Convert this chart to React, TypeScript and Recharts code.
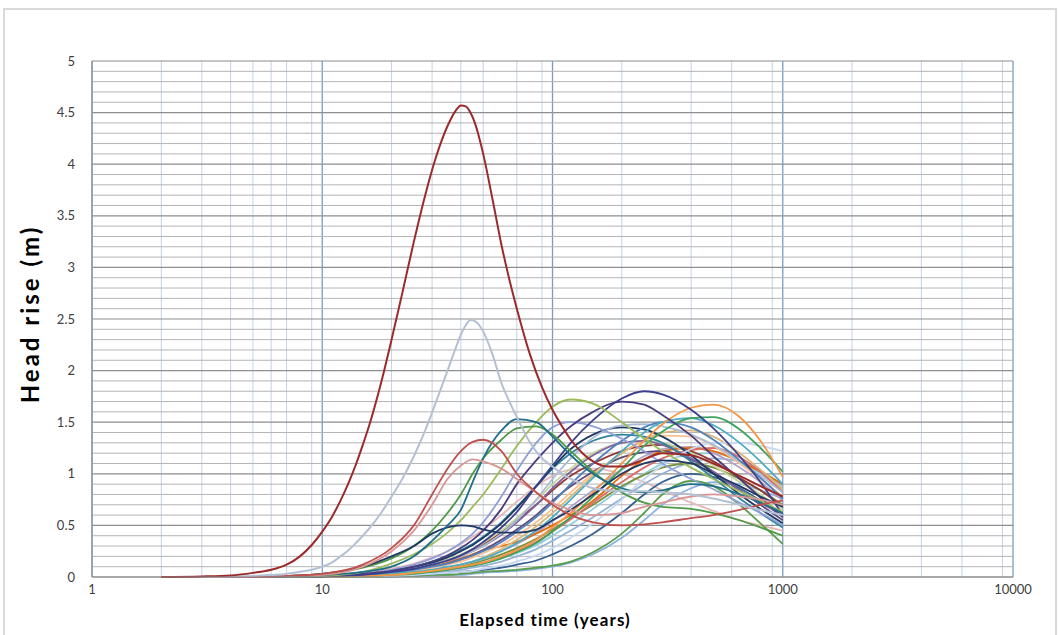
import React from 'react';
import { LineChart, Line, XAxis, YAxis, CartesianGrid, ReferenceLine } from 'recharts';

// elapsed time samples (years)
const T = [2, 3, 4, 5, 7, 10, 15, 20, 25, 30, 35, 40, 45, 50, 60, 70, 85, 100, 120, 150, 200, 250, 300, 400, 500, 650, 800, 1000];
// finer sampling for the two early, sharp peaks
const T_FINE = [2, 3, 4, 5, 6, 7, 8, 9, 10, 11, 12, 13, 14, 15, 16, 18, 20, 22, 25, 28, 31, 35, 38, 40, 42, 44, 46, 50, 55, 60, 65, 70, 80, 90, 100, 110, 120, 135, 150, 175, 200, 250, 300, 400, 500, 650, 800, 1000];

const S1 = [0, 0.005, 0.015, 0.04, 0.07, 0.12, 0.2, 0.31, 0.44, 0.58, 0.74, 0.91, 1.09, 1.28, 1.47, 1.88, 2.3, 2.7, 3.25, 3.7, 4.05, 4.37, 4.52, 4.57, 4.56, 4.5, 4.4, 4.1, 3.65, 3.22, 2.88, 2.6, 2.15, 1.84, 1.62, 1.46, 1.33, 1.2, 1.12, 1.07, 1.07, 1.14, 1.2, 1.18, 1.1, 0.98, 0.88, 0.78];
const S2 = [0, 0, 0.005, 0.01, 0.02, 0.03, 0.05, 0.07, 0.1, 0.14, 0.2, 0.26, 0.33, 0.4, 0.47, 0.62, 0.78, 0.93, 1.17, 1.42, 1.68, 2.0, 2.22, 2.35, 2.44, 2.49, 2.48, 2.38, 2.15, 1.88, 1.7, 1.55, 1.3, 1.15, 1.07, 1.0, 0.95, 0.9, 0.86, 0.84, 0.83, 0.83, 0.82, 0.8, 0.76, 0.7, 0.65, 0.6];

const S3 = [0, 0, 0, 0, 0.01, 0.03, 0.12, 0.28, 0.5, 0.8, 1.05, 1.22, 1.31, 1.33, 1.22, 1.0, 0.82, 0.7, 0.6, 0.53, 0.5, 0.51, 0.53, 0.57, 0.6, 0.65, 0.7, 0.74];
const S4 = [0, 0, 0, 0, 0.01, 0.02, 0.1, 0.25, 0.45, 0.7, 0.95, 1.08, 1.14, 1.12, 1.05, 0.95, 0.82, 0.72, 0.65, 0.6, 0.62, 0.68, 0.72, 0.78, 0.8, 0.78, 0.75, 0.7];
const S5 = [0, 0, 0, 0, 0.005, 0.02, 0.05, 0.1, 0.2, 0.35, 0.5, 0.65, 0.92, 1.15, 1.42, 1.53, 1.5, 1.36, 1.18, 1.0, 0.86, 0.82, 0.84, 0.9, 0.88, 0.8, 0.72, 0.62];
const S6 = [0, 0, 0, 0, 0.01, 0.03, 0.1, 0.2, 0.3, 0.42, 0.48, 0.5, 0.49, 0.46, 0.43, 0.43, 0.46, 0.55, 0.65, 0.8, 1.0, 1.1, 1.13, 1.1, 1.0, 0.88, 0.78, 0.68];
const S7 = [0, 0, 0, 0, 0.01, 0.03, 0.09, 0.18, 0.3, 0.45, 0.62, 0.8, 1.0, 1.15, 1.33, 1.44, 1.46, 1.38, 1.22, 1.02, 0.82, 0.72, 0.68, 0.66, 0.62, 0.55, 0.48, 0.4];
const S8 = [0, 0, 0, 0, 0, 0.01, 0.05, 0.13, 0.22, 0.32, 0.43, 0.55, 0.68, 0.8, 1.05, 1.27, 1.5, 1.65, 1.72, 1.68, 1.5, 1.34, 1.22, 1.06, 0.95, 0.83, 0.74, 0.63];
const S9 = [0, 0, 0, 0, 0, 0.005, 0.02, 0.05, 0.08, 0.12, 0.16, 0.21, 0.27, 0.34, 0.48, 0.63, 0.88, 1.08, 1.3, 1.52, 1.73, 1.8, 1.77, 1.62, 1.44, 1.17, 0.92, 0.6];
const S10 = [0, 0, 0, 0, 0, 0.005, 0.03, 0.06, 0.1, 0.15, 0.21, 0.28, 0.36, 0.45, 0.66, 0.9, 1.13, 1.3, 1.46, 1.6, 1.7, 1.67, 1.57, 1.37, 1.17, 0.95, 0.77, 0.58];
const S11 = [0, 0, 0, 0, 0, 0, 0.01, 0.02, 0.04, 0.06, 0.08, 0.1, 0.12, 0.14, 0.2, 0.26, 0.36, 0.48, 0.62, 0.82, 1.1, 1.32, 1.48, 1.64, 1.67, 1.55, 1.32, 0.97];
const S12 = [0, 0, 0, 0, 0, 0, 0.005, 0.02, 0.03, 0.05, 0.07, 0.09, 0.11, 0.13, 0.18, 0.24, 0.33, 0.44, 0.58, 0.78, 1.05, 1.27, 1.41, 1.54, 1.55, 1.43, 1.25, 1.02];
const S13 = [0, 0, 0, 0, 0, 0.005, 0.01, 0.03, 0.05, 0.07, 0.1, 0.12, 0.15, 0.18, 0.25, 0.33, 0.45, 0.58, 0.75, 0.96, 1.22, 1.4, 1.5, 1.54, 1.47, 1.3, 1.12, 0.9];
const S14 = [0, 0, 0, 0, 0, 0.005, 0.02, 0.04, 0.07, 0.1, 0.13, 0.17, 0.21, 0.25, 0.34, 0.44, 0.58, 0.72, 0.9, 1.1, 1.32, 1.45, 1.5, 1.45, 1.33, 1.13, 0.96, 0.76];
const S15 = [0, 0, 0, 0, 0, 0.01, 0.03, 0.07, 0.12, 0.18, 0.25, 0.33, 0.42, 0.53, 0.78, 1.03, 1.3, 1.45, 1.5, 1.46, 1.34, 1.22, 1.1, 0.95, 0.85, 0.72, 0.62, 0.5];
const S16 = [0, 0, 0, 0, 0, 0.005, 0.02, 0.05, 0.08, 0.12, 0.16, 0.2, 0.25, 0.3, 0.42, 0.55, 0.75, 0.95, 1.15, 1.35, 1.47, 1.48, 1.46, 1.38, 1.28, 1.12, 0.98, 0.82];
const S17 = [0, 0, 0, 0, 0, 0.005, 0.02, 0.04, 0.06, 0.09, 0.12, 0.15, 0.19, 0.23, 0.31, 0.4, 0.53, 0.66, 0.82, 1.0, 1.2, 1.32, 1.37, 1.36, 1.27, 1.1, 0.95, 0.78];
const S18 = [0, 0, 0, 0, 0, 0.01, 0.03, 0.06, 0.09, 0.13, 0.17, 0.22, 0.27, 0.33, 0.45, 0.57, 0.74, 0.9, 1.05, 1.2, 1.3, 1.32, 1.3, 1.2, 1.08, 0.92, 0.8, 0.65];
const S19 = [0, 0, 0, 0, 0, 0, 0.01, 0.03, 0.05, 0.07, 0.09, 0.12, 0.15, 0.18, 0.25, 0.32, 0.43, 0.54, 0.68, 0.84, 1.04, 1.17, 1.24, 1.26, 1.2, 1.06, 0.92, 0.74];
const S20 = [0, 0, 0, 0, 0, 0, 0.01, 0.02, 0.03, 0.05, 0.07, 0.09, 0.11, 0.13, 0.18, 0.23, 0.31, 0.4, 0.51, 0.66, 0.86, 1.0, 1.1, 1.19, 1.2, 1.12, 1.0, 0.84];
const S21 = [0, 0, 0, 0, 0, 0, 0.005, 0.01, 0.02, 0.04, 0.05, 0.07, 0.09, 0.11, 0.15, 0.2, 0.27, 0.35, 0.45, 0.58, 0.76, 0.9, 1.0, 1.11, 1.15, 1.12, 1.03, 0.88];
const S22 = [0, 0, 0, 0, 0, 0.005, 0.02, 0.05, 0.08, 0.12, 0.16, 0.21, 0.26, 0.32, 0.43, 0.55, 0.7, 0.84, 0.98, 1.1, 1.22, 1.27, 1.28, 1.22, 1.12, 0.96, 0.84, 0.68];
const S23 = [0, 0, 0, 0, 0, 0, 0.01, 0.02, 0.04, 0.06, 0.08, 0.1, 0.13, 0.16, 0.22, 0.28, 0.37, 0.46, 0.57, 0.7, 0.88, 0.99, 1.06, 1.1, 1.06, 0.95, 0.84, 0.7];
const S24 = [0, 0, 0, 0, 0, 0.005, 0.02, 0.04, 0.07, 0.1, 0.13, 0.17, 0.21, 0.26, 0.36, 0.46, 0.6, 0.74, 0.88, 1.02, 1.16, 1.21, 1.22, 1.14, 1.02, 0.84, 0.7, 0.55];
const S25 = [0, 0, 0, 0, 0, 0.01, 0.03, 0.06, 0.1, 0.15, 0.2, 0.26, 0.32, 0.39, 0.53, 0.68, 0.88, 1.05, 1.2, 1.32, 1.38, 1.36, 1.3, 1.12, 0.96, 0.76, 0.62, 0.48];
const S26 = [0, 0, 0, 0, 0, 0, 0.01, 0.03, 0.06, 0.1, 0.14, 0.18, 0.22, 0.26, 0.3, 0.34, 0.42, 0.5, 0.6, 0.74, 0.98, 1.14, 1.22, 1.25, 1.22, 1.12, 1.02, 0.9];
const S27 = [0, 0, 0, 0, 0, 0, 0.005, 0.01, 0.02, 0.03, 0.04, 0.05, 0.06, 0.07, 0.09, 0.12, 0.16, 0.22, 0.3, 0.42, 0.62, 0.8, 0.92, 1.0, 0.97, 0.86, 0.74, 0.58];
const S28 = [0, 0, 0, 0, 0, 0, 0, 0.005, 0.01, 0.02, 0.02, 0.03, 0.04, 0.05, 0.06, 0.07, 0.09, 0.11, 0.15, 0.24, 0.42, 0.62, 0.8, 0.93, 0.88, 0.7, 0.52, 0.32];
const S29 = [0, 0, 0, 0, 0, 0, 0, 0.005, 0.01, 0.01, 0.02, 0.02, 0.03, 0.04, 0.05, 0.06, 0.08, 0.1, 0.14, 0.22, 0.38, 0.55, 0.7, 0.86, 0.92, 0.9, 0.84, 0.76];
const S30 = [0, 0, 0, 0, 0, 0, 0.005, 0.01, 0.02, 0.03, 0.04, 0.05, 0.06, 0.08, 0.11, 0.15, 0.21, 0.28, 0.38, 0.52, 0.75, 0.95, 1.08, 1.24, 1.3, 1.3, 1.27, 1.22];
const S31 = [0, 0, 0, 0, 0, 0.01, 0.04, 0.08, 0.13, 0.19, 0.25, 0.32, 0.39, 0.46, 0.6, 0.73, 0.88, 0.98, 1.04, 1.05, 1.0, 0.92, 0.84, 0.72, 0.64, 0.55, 0.5, 0.45];
const S32 = [0, 0, 0, 0, 0, 0, 0.01, 0.03, 0.05, 0.07, 0.09, 0.12, 0.15, 0.19, 0.27, 0.36, 0.49, 0.62, 0.78, 0.98, 1.2, 1.33, 1.4, 1.42, 1.36, 1.2, 1.04, 0.85];
const S33 = [0, 0, 0, 0, 0, 0.005, 0.02, 0.05, 0.08, 0.12, 0.16, 0.2, 0.25, 0.3, 0.41, 0.53, 0.7, 0.86, 1.02, 1.18, 1.3, 1.32, 1.28, 1.15, 1.02, 0.84, 0.72, 0.6];
const S34 = [0, 0, 0, 0, 0, 0, 0.005, 0.02, 0.03, 0.05, 0.07, 0.09, 0.11, 0.14, 0.19, 0.25, 0.34, 0.44, 0.56, 0.72, 0.92, 1.06, 1.15, 1.23, 1.25, 1.16, 1.02, 0.82];
const S35 = [0, 0, 0, 0, 0, 0.01, 0.03, 0.06, 0.1, 0.14, 0.19, 0.25, 0.31, 0.38, 0.52, 0.67, 0.88, 1.06, 1.24, 1.38, 1.45, 1.43, 1.36, 1.18, 1.0, 0.8, 0.66, 0.52];

const SERIES = [
  { key: 's31', color: '#e6b9b8', values: S31 },
  { key: 's29', color: '#8db3e2', values: S29 },
  { key: 's28', color: '#5a9e4b', values: S28 },
  { key: 's27', color: '#376092', values: S27 },
  { key: 's21', color: '#95b3d7', values: S21 },
  { key: 's20', color: '#93cddd', values: S20 },
  { key: 's23', color: '#76923c', values: S23 },
  { key: 's19', color: '#b3a2c7', values: S19 },
  { key: 's26', color: '#e46c0a', values: S26 },
  { key: 's34', color: '#da6d6a', values: S34 },
  { key: 's24', color: '#604a7b', values: S24 },
  { key: 's22', color: '#953735', values: S22 },
  { key: 's18', color: '#c3d69b', values: S18 },
  { key: 's17', color: '#fac090', values: S17 },
  { key: 's32', color: '#d9b779', values: S32 },
  { key: 's33', color: '#8064a2', values: S33 },
  { key: 's25', color: '#31859c', values: S25 },
  { key: 's35', color: '#1f3a66', values: S35 },
  { key: 's30', color: '#c6d9f1', values: S30 },
  { key: 's16', color: '#a9bcd6', values: S16 },
  { key: 's14', color: '#4f81bd', values: S14 },
  { key: 's13', color: '#4bacc6', values: S13 },
  { key: 's12', color: '#3da35d', values: S12 },
  { key: 's11', color: '#f79646', values: S11 },
  { key: 's15', color: '#8ea0d6', values: S15 },
  { key: 's10', color: '#4b3c7e', values: S10 },
  { key: 's9', color: '#3b3f8c', values: S9 },
  { key: 's8', color: '#9bbb59', values: S8 },
  { key: 's7', color: '#4e9a45', values: S7 },
  { key: 's6', color: '#1f3864', values: S6 },
  { key: 's5', color: '#1f6f8b', values: S5 },
  { key: 's4', color: '#d99694', values: S4 },
  { key: 's3', color: '#c0504d', values: S3 },
];

const PEAK_SERIES = [
  { key: 's2', color: '#b4c0d4', values: S2 },
  { key: 's1', color: '#9c2a2a', values: S1 },
];

const X_TICKS = [1, 10, 100, 1000, 10000];
const Y_TICKS = [0, 0.5, 1, 1.5, 2, 2.5, 3, 3.5, 4, 4.5, 5];
const DECADES = [1, 10, 100, 1000];
const MINOR_MULT = [2, 3, 4, 5, 6, 7, 8, 9];

const MINOR_X: number[] = [];
DECADES.forEach((d) => MINOR_MULT.forEach((m) => MINOR_X.push(m * d)));
const MINOR_Y: number[] = [];
for (let i = 1; i < 50; i++) if (i % 5 !== 0) MINOR_Y.push(i / 10);

const rows = T.map((t, i) => {
  const r: Record<string, number> = { t };
  SERIES.forEach((s) => {
    r[s.key] = s.values[i];
  });
  return r;
});

const peakRows = (vals: number[]) => T_FINE.map((t, i) => ({ t, v: vals[i] }));

const FONT = 'Lato, "Open Sans", "DejaVu Sans", sans-serif';

export default function App() {
  return (
    <div style={{ position: 'absolute', left: 0, top: 0, width: 1058, height: 635, background: '#fff', overflow: 'hidden', fontFamily: FONT }}>
      <div style={{ position: 'absolute', left: 3, top: 8, width: 1050, height: 640, border: '2px solid #d9d9d9' }} />
      <LineChart width={1058} height={635} data={rows} margin={{ top: 61, right: 45, bottom: 28, left: 32 }}>
        <CartesianGrid horizontal={false} verticalValues={MINOR_X} stroke="#c4d3e6" strokeWidth={1} />
        {MINOR_Y.map((v) => (
          <ReferenceLine key={'gy' + v} y={v} stroke="#b4b4b4" strokeWidth={1} />
        ))}
        <CartesianGrid vertical={false} stroke="#8e8e8e" strokeWidth={1.2} />
        <CartesianGrid horizontal={false} verticalValues={X_TICKS} stroke="#7b9bc4" strokeWidth={1.3} />
        <XAxis
          dataKey="t"
          type="number"
          scale="log"
          domain={[1, 10000]}
          ticks={X_TICKS}
          allowDataOverflow
          height={30}
          tickLine={false}
          axisLine={{ stroke: '#8c8c8c' }}
          tick={{ fill: '#404040', fontSize: 13, fontFamily: FONT }}
        />
        <YAxis
          type="number"
          domain={[0, 5]}
          ticks={Y_TICKS}
          width={60}
          tickLine={false}
          tickMargin={11}
          axisLine={{ stroke: '#8c8c8c' }}
          tick={{ fill: '#404040', fontSize: 13, fontFamily: FONT }}
        />
        {SERIES.map((s) => (
          <Line
            key={s.key}
            dataKey={s.key}
            type="monotone"
            stroke={s.color}
            strokeWidth={1.8}
            dot={false}
            activeDot={false}
            isAnimationActive={false}
          />
        ))}
        {PEAK_SERIES.map((s) => (
          <Line
            key={s.key}
            data={peakRows(s.values)}
            dataKey="v"
            type="monotone"
            stroke={s.color}
            strokeWidth={2}
            dot={false}
            activeDot={false}
            isAnimationActive={false}
          />
        ))}
      </LineChart>
      <div style={{ position: 'absolute', left: 29, top: 314, transform: 'translate(-50%, -50%) rotate(-90deg)', fontSize: 24, letterSpacing: 3, fontWeight: 700, color: '#000', whiteSpace: 'nowrap' }}>
        Head rise (m)
      </div>
      <div style={{ position: 'absolute', left: 545, top: 619, transform: 'translate(-50%, -50%)', fontSize: 17, letterSpacing: 1.1, fontWeight: 700, color: '#000', whiteSpace: 'nowrap' }}>
        Elapsed time (years)
      </div>
    </div>
  );
}
